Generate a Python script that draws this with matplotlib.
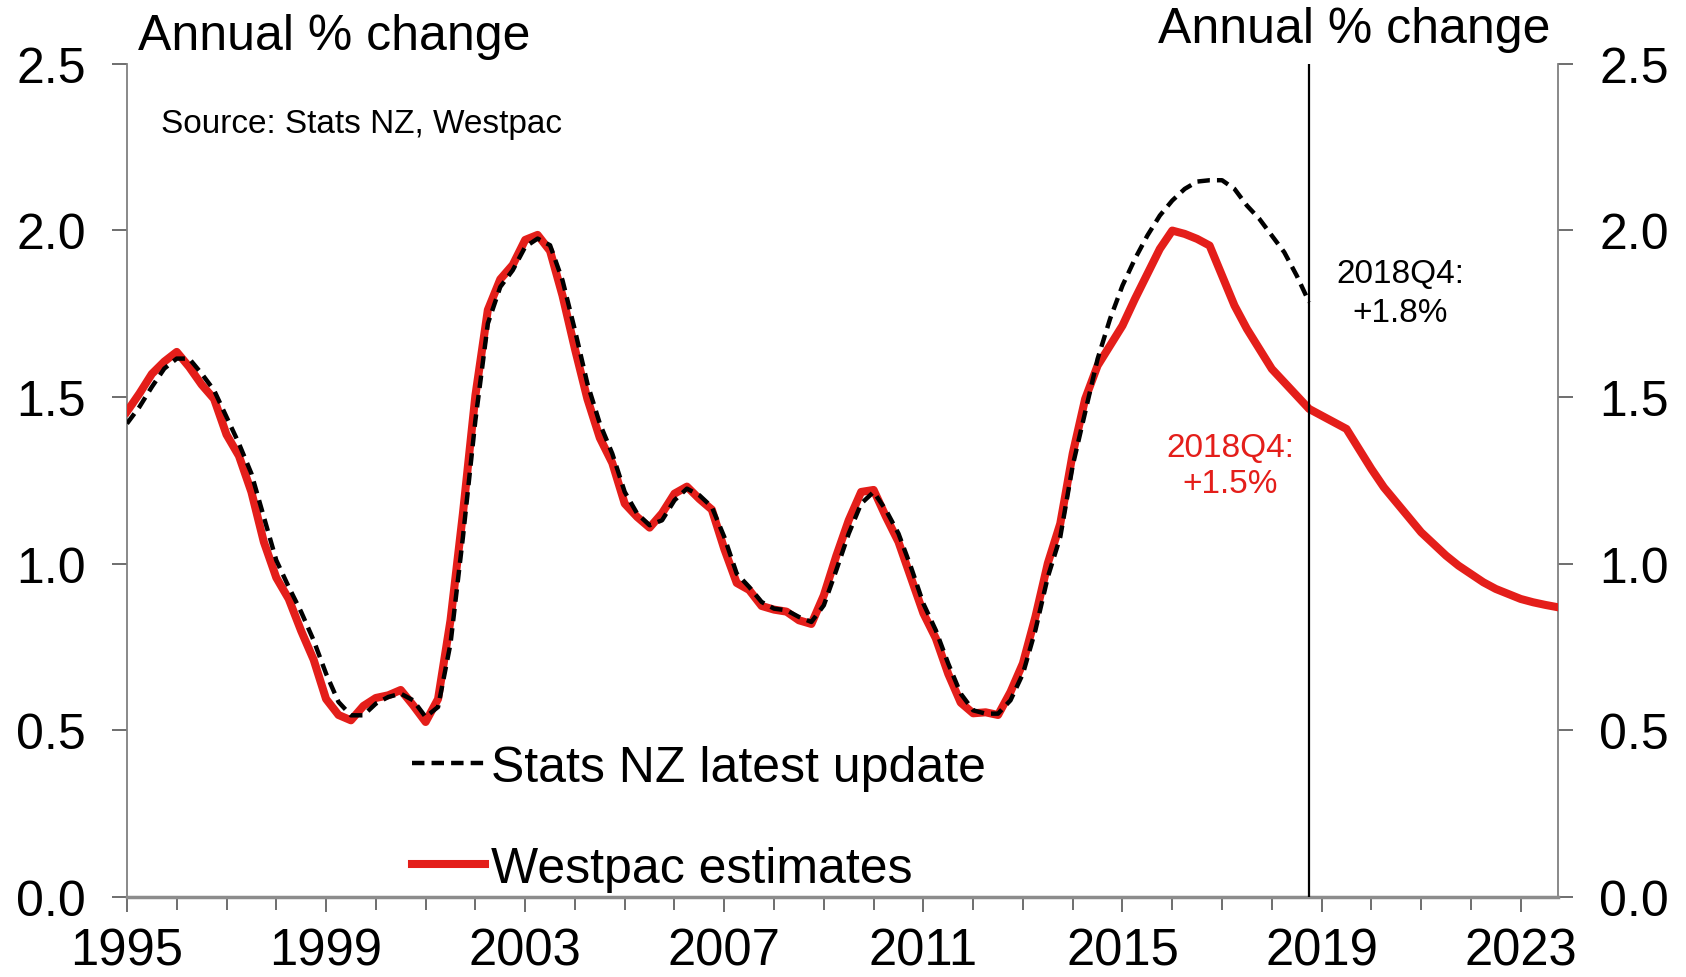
import numpy as np
import pandas as pd
import matplotlib
matplotlib.use('Agg')
import matplotlib.pyplot as plt

plt.rcParams['font.family'] = ['Liberation Sans', 'DejaVu Sans']

# Annual % change, quarterly from 1995Q1
# Westpac estimates run to 2023Q4, Stats NZ latest update to 2018Q4
westpac = [1.456, 1.51, 1.569, 1.606, 1.635, 1.59, 1.537, 1.494, 1.387, 1.323,
           1.215, 1.065, 0.958, 0.894, 0.798, 0.712, 0.594, 0.546, 0.530, 0.573,
           0.597, 0.605, 0.621, 0.575, 0.525, 0.594, 0.830, 1.151, 1.504, 1.761,
           1.853, 1.896, 1.971, 1.986, 1.938, 1.804, 1.644, 1.494, 1.377, 1.302,
           1.18, 1.140, 1.108, 1.151, 1.210, 1.231, 1.194, 1.162, 1.044, 0.942,
           0.921, 0.873, 0.862, 0.856, 0.830, 0.819, 0.905, 1.023, 1.130, 1.215,
           1.221, 1.140, 1.065, 0.958, 0.851, 0.776, 0.669, 0.583, 0.551, 0.554,
           0.546, 0.615, 0.701, 0.840, 1.001, 1.12, 1.33, 1.494, 1.594, 1.654,
           1.714, 1.794, 1.869, 1.944, 1.999, 1.989, 1.974, 1.954, 1.864, 1.774,
           1.704, 1.644, 1.584, 1.544, 1.504, 1.464, 1.444, 1.424, 1.404, 1.344,
           1.284, 1.229, 1.184, 1.139, 1.094, 1.059, 1.024, 0.994, 0.969, 0.944,
           0.924, 0.909, 0.894, 0.884, 0.876, 0.869]

statsnz = [1.42, 1.47, 1.53, 1.585, 1.615, 1.615, 1.57, 1.52, 1.44, 1.36,
           1.27, 1.14, 1.01, 0.93, 0.855, 0.77, 0.67, 0.585, 0.545, 0.545,
           0.58, 0.60, 0.61, 0.59, 0.54, 0.57, 0.76, 1.08, 1.43, 1.72,
           1.83, 1.88, 1.95, 1.975, 1.955, 1.85, 1.70, 1.54, 1.42, 1.33,
           1.215, 1.15, 1.115, 1.13, 1.19, 1.225, 1.205, 1.17, 1.08, 0.97,
           0.93, 0.885, 0.865, 0.86, 0.84, 0.825, 0.875, 0.98, 1.09, 1.18,
           1.215, 1.16, 1.09, 0.99, 0.88, 0.80, 0.70, 0.61, 0.56, 0.55,
           0.55, 0.59, 0.67, 0.80, 0.96, 1.08, 1.294, 1.454, 1.614, 1.734,
           1.834, 1.914, 1.984, 2.044, 2.089, 2.124, 2.146, 2.15, 2.15, 2.124,
           2.074, 2.034, 1.984, 1.934, 1.864, 1.784]

quarters = pd.period_range('1995Q1', periods=len(westpac), freq='Q')
t = np.asarray(quarters.year + (quarters.quarter - 1) / 4.0, dtype=float)
cutoff = 2018.75   # 2018Q4

year_ticks = list(range(1995, 2024, 4))
y_ticks = [0.0, 0.5, 1.0, 1.5, 2.0, 2.5]

red = '#E41E1A'
grey = '#808080'

fig = plt.figure(figsize=(16.86, 9.78), dpi=100)
ax = fig.add_axes([0.0753, 0.0818, 0.8488, 0.8522])

l_red, = ax.plot(t, westpac, color=red, lw=5.8, solid_joinstyle='round',
                 zorder=3, label='Westpac estimates')
l_blk, = ax.plot(t[:len(statsnz)], statsnz, color='black', lw=3.2,
                 dashes=(2.8, 1.6), zorder=4, label='Stats NZ latest update')
ax.axvline(cutoff, ymin=0, ymax=1, color='black', lw=1.6, zorder=5)

ax.set_xlim(1995, 2023.75)
ax.set_ylim(0, 2.5)

ax.set_xticks(year_ticks)
ax.set_xticklabels([str(y) for y in year_ticks])
ax.set_xticks(range(1995, 2024), minor=True)
ax.set_yticks(y_ticks)
ax.set_yticklabels(['%.1f' % v for v in y_ticks])

ax.tick_params(axis='x', which='major', direction='out', length=10.5, width=1.2,
               color='#555555', labelsize=36.5, pad=11)
ax.tick_params(axis='x', which='minor', direction='out', length=9, width=1.2,
               color='#555555')
ax.tick_params(axis='y', direction='out', length=10.5, width=1.2, color='#555555',
               labelsize=36, pad=19, left=True, right=True, labelleft=True,
               labelright=True)

ax.spines['top'].set_visible(False)
for s in ['left', 'right']:
    ax.spines[s].set_color(grey)
    ax.spines[s].set_linewidth(1.3)
ax.spines['bottom'].set_color('#8c8c8c')
ax.spines['bottom'].set_linewidth(2.5)

fig.text(0.0819, 0.9489, 'Annual % change', fontsize=36, va='baseline', ha='left')
fig.text(0.9193, 0.9557, 'Annual % change', fontsize=36, va='baseline', ha='right')
fig.text(0.0955, 0.8635, 'Source: Stats NZ, Westpac', fontsize=24,
         va='baseline', ha='left')

# end-point labels
ax.text(2020.58, 1.845, '2018Q4:', fontsize=24, ha='center', va='baseline')
ax.text(2020.58, 1.729, '+1.8%', fontsize=24, ha='center', va='baseline')
ax.text(2017.17, 1.324, '2018Q4:', fontsize=24, ha='center', va='baseline', color=red)
ax.text(2017.17, 1.214, '+1.5%', fontsize=24, ha='center', va='baseline', color=red)

ax.legend(handles=[l_blk, l_red], loc='lower left', bbox_to_anchor=(0.1992, 0.006),
          frameon=False, fontsize=36, handlelength=1.45, handletextpad=0.12,
          labelspacing=1.1, borderpad=0, borderaxespad=0)

fig.savefig('out.png', dpi=100)
